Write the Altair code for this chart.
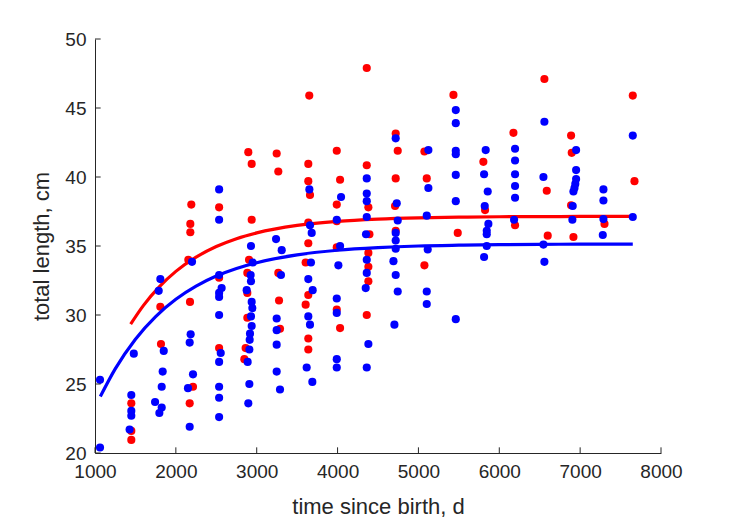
import altair as alt
import pandas as pd

# ---- data ----
red_day = [1449, 1449, 1449,
           1808, 1816,
           2191, 2179, 2179, 2154, 2175, 2212, 2171,
           2535, 2535, 2535,
           2896, 2938, 2938, 2905, 2884, 2884, 2884, 2863, 2847,
           3247, 3267, 3267, 3276, 3288,
           3650, 3638, 3638, 3659, 3638, 3638, 3605, 3638, 3605, 3638, 3638,
           3990, 4031, 3990, 3990, 3990, 3990, 4031,
           4361, 4361, 4381, 4394, 4381, 4381, 4381, 4361,
           4719, 4744, 4719, 4711, 4719,
           5074, 5103, 5074,
           5433, 5486,
           5803, 5824,
           6175, 6195,
           6558, 6587, 6599,
           6888, 6896, 6888, 6917,
           7301,
           7651, 7672]
red_len = [23.6, 21.6, 20.95,
           30.6, 27.9,
           38.0, 36.6, 36.0, 34.0, 30.95, 24.8, 23.6,
           37.8, 32.7, 27.6,
           41.8, 40.95, 36.9, 34.0, 33.05, 31.6, 29.8, 27.6, 26.8,
           41.7, 40.4, 33.05, 31.05, 29.0,
           45.9, 40.95, 39.7, 38.7, 36.7, 35.2, 33.8, 31.45, 30.75, 28.3, 27.5,
           41.9, 39.8, 38.0, 36.8, 34.9, 30.4, 29.05,
           47.9, 40.85, 37.8, 35.85, 34.5, 33.5, 32.45, 30.0,
           43.15, 41.9, 39.9, 37.9, 36.1,
           41.85, 39.9, 33.6,
           45.95, 35.95,
           41.1, 37.6,
           43.2, 36.5,
           47.1, 39.0, 35.75,
           43.0, 41.75, 37.95, 35.65,
           36.6,
           45.9, 39.7]

blue_day = [1062, 1062,
            1449, 1449, 1449, 1428, 1480,
            1808, 1788, 1850, 1837, 1825, 1743, 1825, 1796,
            2200, 2183, 2171, 2212, 2150, 2171,
            2535, 2535, 2535, 2566, 2535, 2535, 2535, 2555, 2535, 2535, 2535, 2535,
            2929, 2950, 2925, 2929, 2876, 2938, 2946, 2929, 2938, 2917, 2913, 2909, 2888, 2909, 2896,
            3239, 3309, 3300, 3247, 3247, 3247, 3247, 3288,
            3651, 3659, 3680, 3671, 3638, 3692, 3638, 3659, 3618, 3688,
            4043, 3990, 4031, 4010, 3990, 3990, 3990, 3990,
            4361, 4361, 4361, 4361, 4352, 4361, 4361, 4348, 4381, 4361,
            4719, 4732, 4744, 4719, 4719, 4719, 4691, 4719, 4744, 4703,
            5123, 5123, 5103, 5115, 5103, 5103,
            5462, 5462, 5462, 5462, 5462, 5462, 5462,
            5832, 5812, 5857, 5820, 5865, 5845, 5845, 5845, 5812,
            6195, 6195, 6195, 6195, 6195, 6183,
            6558, 6546, 6546, 6558,
            6950, 6950, 6950, 6940, 6930, 6917, 6908, 6904,
            7288, 7288, 7288, 7280,
            7651, 7651]
blue_len = [25.3, 20.4,
            24.2, 23.05, 22.7, 21.7, 27.2,
            32.6, 31.75, 27.4, 25.9, 24.8, 23.7, 23.3, 22.9,
            33.85, 28.6, 28.0, 25.7, 24.7, 21.9,
            39.1, 36.9, 32.9, 31.95, 31.6, 31.3, 30.0, 27.25, 26.6, 24.8, 24.0, 22.6,
            35.0, 33.8, 32.9, 32.45, 31.8, 30.95, 30.5, 29.9, 29.2, 28.65, 28.2, 27.5, 26.6, 25.0, 23.6,
            35.5, 34.7, 32.9, 29.75, 28.9, 27.85, 25.9, 24.6,
            39.1, 36.5, 35.95, 33.8, 32.6, 31.8, 29.9, 29.3, 26.2, 25.15,
            38.55, 36.9, 35.0, 33.6, 31.2, 30.15, 26.8, 26.2,
            39.9, 38.8, 38.25, 37.1, 35.85, 34.0, 33.05, 31.95, 27.9, 26.2,
            42.8, 38.1, 36.85, 35.95, 35.4, 34.8, 33.9, 32.9, 31.7, 29.3,
            41.95, 39.2, 37.2, 34.75, 31.7, 30.8,
            44.85, 43.9, 41.9, 41.65, 40.15, 38.25, 29.7,
            41.95, 40.2, 38.95, 37.9, 36.6, 36.1, 35.85, 35.0, 34.2,
            42.05, 41.2, 40.2, 39.35, 38.5, 36.9,
            44.0, 40.0, 35.1, 33.85,
            41.95, 40.5, 39.85, 39.5, 39.2, 38.95, 37.9, 36.9,
            39.1, 38.3, 36.95, 35.8,
            43.0, 37.1]

red_fit_day = [1441, 1600, 1800, 2000, 2250, 2500, 2750, 3000, 3500, 4000,
               4500, 5000, 5500, 6000, 6500, 7000, 7651]
red_fit_len = [29.34, 30.70, 32.07, 33.16, 34.19, 34.96, 35.53, 35.95, 36.49, 36.79,
               36.95, 37.04, 37.09, 37.12, 37.13, 37.14, 37.15]

blue_fit_day = [1066, 1250, 1500, 1750, 2000, 2250, 2500, 2750, 3000, 3500,
                4000, 4500, 5000, 5500, 6000, 6500, 7000, 7651]
blue_fit_len = [24.10, 26.10, 28.25, 29.89, 31.14, 32.09, 32.82, 33.37, 33.79, 34.36,
                34.69, 34.88, 35.00, 35.06, 35.10, 35.12, 35.13, 35.14]

x_ticks = [1000, 2000, 3000, 4000, 5000, 6000, 7000, 8000]
y_ticks = [20, 25, 30, 35, 40, 45, 50]

# ---- styling ----
INK = "#262626"
FONT = "Liberation Sans"
RED = "#ff0000"
BLUE = "#0000ff"

xs = alt.Scale(domain=[1000, 8000], nice=False, zero=False)
ys = alt.Scale(domain=[20, 50], nice=False, zero=False)

xax = alt.Axis(values=x_ticks, format="d", title="time since birth, d", ticks=False, grid=False,
               domainColor=INK, domainWidth=1, labelColor=INK, titleColor=INK,
               labelFont=FONT, titleFont=FONT, labelFontSize=19, titleFontSize=22,
               titleFontWeight="normal", labelPadding=9, titlePadding=15, labelFlush=False)
yax = alt.Axis(values=y_ticks, format="d", title="total length, cm", ticks=False, grid=False,
               domainColor=INK, domainWidth=1, labelColor=INK, titleColor=INK,
               labelFont=FONT, titleFont=FONT, labelFontSize=19, titleFontSize=22,
               titleFontWeight="normal", labelPadding=9, titlePadding=11, labelFlush=False)


def X(field):
    return alt.X(field, type="quantitative", scale=xs, axis=xax)


def Y(field):
    return alt.Y(field, type="quantitative", scale=ys, axis=yax)


red_pts = pd.DataFrame({"d": red_day, "L": red_len})
blue_pts = pd.DataFrame({"d": blue_day, "L": blue_len})
red_fit = pd.DataFrame({"d": red_fit_day, "L": red_fit_len})
blue_fit = pd.DataFrame({"d": blue_fit_day, "L": blue_fit_len})

tick_len_y = 0.41   # in cm units (~5.7 px)
tick_len_x = 70     # in days (~5.7 px)
xt = pd.DataFrame({"d": x_ticks, "L": [20] * len(x_ticks), "L2": [20 + tick_len_y] * len(x_ticks)})
yt = pd.DataFrame({"L": y_ticks, "d": [1000] * len(y_ticks), "d2": [1000 + tick_len_x] * len(y_ticks)})

pt_kw = dict(size=66, opacity=1, strokeWidth=0)

l_red_pts = alt.Chart(red_pts).mark_circle(color=RED, **pt_kw).encode(x=X("d"), y=Y("L"))
l_red_fit = alt.Chart(red_fit).mark_line(color=RED, strokeWidth=3.2, interpolate="monotone").encode(x=X("d"), y=Y("L"))
l_blue_pts = alt.Chart(blue_pts).mark_circle(color=BLUE, **pt_kw).encode(x=X("d"), y=Y("L"))
l_blue_fit = alt.Chart(blue_fit).mark_line(color=BLUE, strokeWidth=3.2, interpolate="monotone").encode(x=X("d"), y=Y("L"))
l_xt = alt.Chart(xt).mark_rule(color=INK, strokeWidth=1).encode(x=X("d"), y=Y("L"), y2="L2")
l_yt = alt.Chart(yt).mark_rule(color=INK, strokeWidth=1).encode(x=X("d"), x2="d2", y=Y("L"))

chart = alt.layer(l_red_pts, l_red_fit, l_blue_pts, l_blue_fit, l_xt, l_yt).properties(
    width=566, height=414,
    padding={"left": 95, "top": 39, "right": 68, "bottom": 68},
    autosize=alt.AutoSizeParams(type="none"),
    background="white",
).configure_view(stroke=None)

chart.save("out.html", embed_options={"renderer": "svg", "actions": False})
